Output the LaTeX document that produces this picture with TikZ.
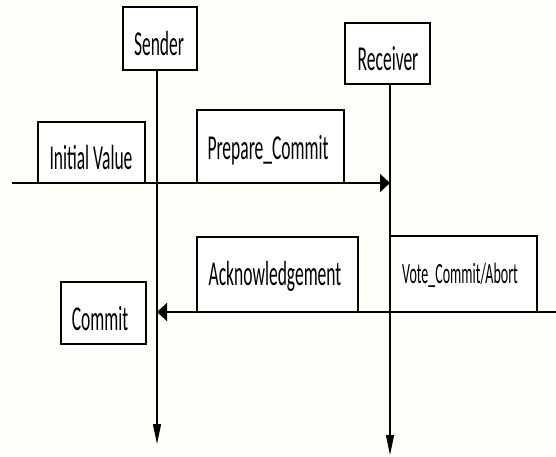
\documentclass[tikz,border=0pt]{standalone}
\usepackage{fontspec}
\usepackage{graphicx}
\setmainfont{Carlito}
\usetikzlibrary{arrows.meta}

% tall, narrow lettering used for every label
\newcommand\talltext[2][2]{\scalebox{1}[#1]{#2}}

\tikzset{
  box/.style={draw=black, line width=1.4pt, fill=white, inner sep=0pt},
  lbl/.style={anchor=base, inner sep=0pt, text=black,
              font=\fontsize{17.5}{20}\selectfont},
  small/.style={lbl, font=\fontsize{14}{16}\selectfont},
  lifeline/.style={draw=black, line width=1.3pt,
                   -{Triangle[length=20pt,width=8pt]}},
  message/.style={draw=black, line width=2pt,
                  -{Triangle[length=10pt,width=18pt]}}
}

\begin{document}
\begin{tikzpicture}[x=1pt, y=-1pt]
  \fill[white!98!yellow] (0,0) rectangle (556,457);
  \useasboundingbox (0,0) rectangle (556,457);

  % participants
  \node[box, minimum width=74pt, minimum height=63pt] (sender) at (160,38.5) {};
  \node[lbl] (senderText) at (159,56) {\talltext{Sender}};
  \node[box, minimum width=85pt, minimum height=61pt] (receiver) at (387.5,53.5) {};
  \node[lbl] (receiverText) at (388,70.5) {\talltext{Receiver}};

  % ends of the lifelines and free ends of the messages
  \coordinate (senderEnd) at (157,444);
  \coordinate (receiverEnd) at (390,455);
  \coordinate (initStart) at (12,183);
  \coordinate (voteStart) at (556,312);

  % message labels sitting on the arrows
  \node[box, minimum width=107pt, minimum height=61pt] (initBox) at (91.5,152.5) {};
  \node[lbl] (initText) at (91,170) {\talltext{Initial Value}};
  \node[box, minimum width=147pt, minimum height=73pt] (prepBox) at (270.5,146.5) {};
  \node[lbl] (prepText) at (268,159.5) {\talltext{Prepare\_Commit}};
  \node[box, minimum width=161pt, minimum height=75pt] (ackBox) at (277.5,274.5) {};
  \node[lbl] (ackText) at (275,285) {\talltext{Acknowledgement}};
  \node[box, minimum width=147pt, minimum height=76pt] (voteBox) at (463.5,274) {};
  \node[small] (voteText) at (460,283) {\talltext[2.1]{Vote\_Commit/Abort}};
  \node[box, minimum width=85pt, minimum height=62pt] (commitBox) at (103.5,313) {};
  \node[lbl] (commitText) at (100,330) {\talltext{Commit}};

  % lifelines
  \draw[lifeline] (sender.south -| senderEnd) -- (senderEnd);
  \draw[lifeline] (receiver.south -| receiverEnd) -- (receiverEnd);

  % messages
  \draw[message] (initStart) -- (initStart -| receiverEnd);
  \draw[message] (voteStart) -- (voteStart -| senderEnd);
\end{tikzpicture}
\end{document}
